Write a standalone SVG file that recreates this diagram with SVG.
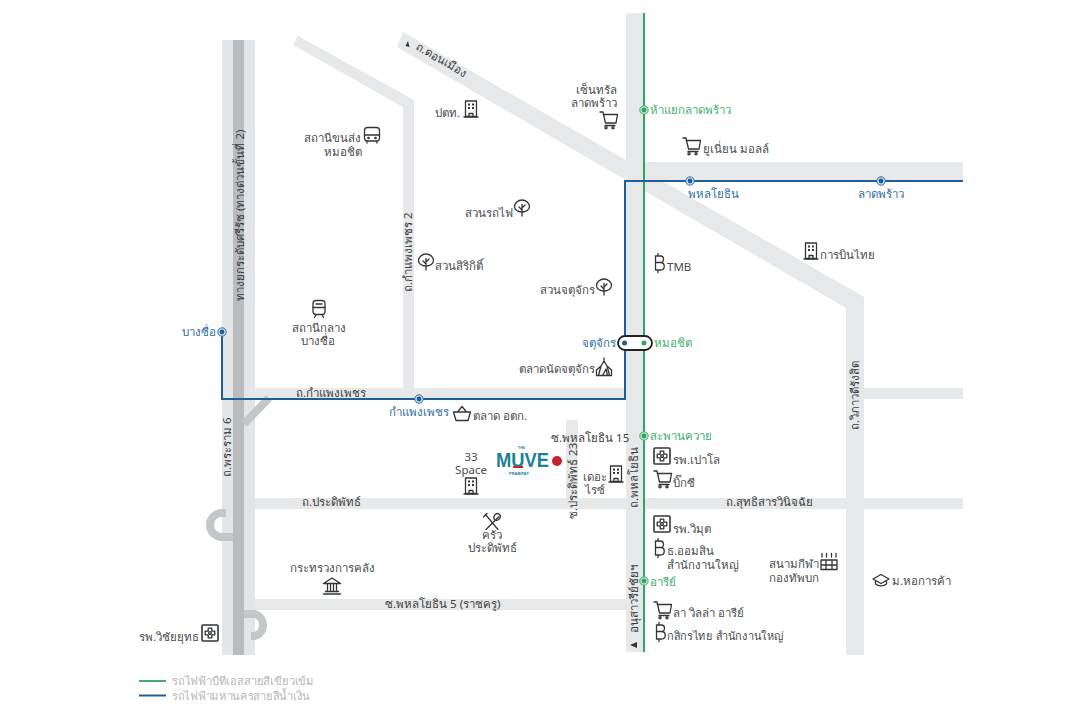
<svg xmlns="http://www.w3.org/2000/svg" width="1086" height="719" viewBox="0 0 1086 719">
<style>
text{font-family:"Noto Sans","Liberation Sans",sans-serif;font-size:11.500px;fill:#4a4c4e}
.d{fill:#3c3e40}
.g{fill:#3fae6e}
.b{fill:#2f6ea5}
.l{fill:#b4b7b9}
.m{text-anchor:middle}
.e{text-anchor:end}
.road{fill:#e6e8ea}
.ramp{fill:none;stroke:#c4c7c9;stroke-width:8}
.i{fill:none;stroke:#333537;stroke-width:1.300;stroke-linejoin:round;stroke-linecap:round}
.f{fill:#333537;stroke:none}
.hg{fill:#bfe5cd;stroke:#3fae6e;stroke-width:1}
.hb{fill:#cfe0ee;stroke:#2f6ea5;stroke-width:1}
.dg{fill:#2ea764}
.db{fill:#1f5f96}
.logo{font-family:"Liberation Sans",sans-serif;fill:#1b8296}
</style>
<defs>
<g id="cart" class="i"><path d="M-8-8h3l2.500 11h10.500l1.500-8.500H-4.800"/><path d="M-3 5.500H7"/><circle cx="-2" cy="7.800" r="1.100"/><circle cx="5" cy="7.800" r="1.100"/></g>
<g id="bld" class="i"><rect x="-5.500" y="-8" width="11" height="15.500"/><path d="M-7 8H7"/><path d="M-2 8v-3.500h4V8"/><path class="f" d="M-3-5.500h2v2h-2zM1-5.500h2v2H1zM-3-2h2v2h-2zM1-2h2v2H1z"/></g>
<g id="tree" class="i"><path d="M0-8C4-8 7.500-5 7.500-1.500 7.500 2 4 4 0 4-4 4-7.500 2-7.500-1.500-7.500-5-4-8 0-8Z"/><path d="M0 8V-3.500M0 0l3-3M0 2l-3-3"/></g>
<g id="baht" class="i"><path d="M-3.500-7V7M-3.500-7H1.500C5.500-7 5.500-.5 1.500-.5H-3.500M1.500-.5C6.500-.5 6.500 7 1.500 7H-3.500M-1-9.500V-7M-1 7V9.500"/></g>
<g id="hosp" class="i"><rect x="-8" y="-8" width="16" height="16" rx="1" stroke-width="1.600"/><path d="M-1.800-4.800h3.600v3h3v3.600h-3v3h-3.600v-3h-3v-3.600h3z"/><circle r="1.300"/></g>
<g id="bus" class="i"><rect x="-7.500" y="-7.500" width="15" height="13.500" rx="3"/><path d="M-7.500 0H7.500M-5 6v2M5 6v2"/><circle cx="-3.500" cy="3" r=".7"/><circle cx="3.500" cy="3" r=".7"/></g>
<g id="train" class="i"><rect x="-6" y="-8.500" width="12" height="14" rx="3"/><path d="M-6-1.500H6M-3 5.500l-1.500 3M3 5.500l1.500 3"/><path d="M-3-5H3"/></g>
<g id="basket" class="i"><path d="M-8.500-2H8.500L6 6.500H-6ZM-4.500-2 0-7.500 4.500-2"/></g>
<g id="tent" class="i"><path d="M0-10V-7M-5.500 7.500-3-2 0-7 3-2 5.500 7.500M-7.500 7.500H7.500M-3-2-7.500 2V7.500M3-2 7.500 2V7.500M-1.500 7.500 2 1 3.500 7.500"/></g>
<g id="food" class="i"><path d="M-6.500-7.500 6 7.500M6.500-5-6 7.500"/><ellipse cx="5" cy="-5" rx="3" ry="3.500" transform="rotate(40 5 -5)"/><path d="M-8.500-5-5-8.500"/></g>
<g id="bank" class="i"><path d="M-8.500-2.500 0-8 8.500-2.500ZM-6.500 5.500H6.500M-8.500 8H8.500M-4.500-2.500V5.500M-1.500-2.500V5.500M1.500-2.500V5.500M4.500-2.500V5.500"/></g>
<g id="stad" class="i"><path d="M-8-2H8M-8 3H8M-8 7.500H8M-8-2V7.500M8-2V7.500M-3-2V7.500M3-2V7.500M-7-8.500v3.500M-2.500-8.500v3.500M2.500-8.500v3.500M7-8.500v3.500"/></g>
<g id="cap" class="i"><path d="M-8-1 0-5.500 8-1 0 3.500ZM-5.500 1V4C-3 6.500 3 6.500 5.500 4V1"/></g>
</defs>
<rect width="1086" height="719" fill="#fff"/>
<g id="roads">
<rect x="222" y="40" width="33" height="615" fill="#e3e6e9"/>
<rect x="233" y="40" width="11" height="615" fill="#b9bcbe"/>
<path class="road" d="M298 36 414 100V388H403V107L293 45Z"/>
<path class="road" d="M403 32 864 297V655H846V308L397 47Z"/>
<rect class="road" x="626" y="13" width="18" height="639"/>
<rect class="road" x="644" y="162" width="319" height="19"/>
<rect class="road" x="255" y="388" width="371" height="11"/>
<rect class="road" x="864" y="388" width="99" height="11"/>
<rect class="road" x="255" y="498" width="708" height="11"/>
<rect class="road" x="255" y="599" width="371" height="11"/>
<rect class="road" x="566" y="420" width="12" height="78"/>
<path class="ramp" d="M244 424 269 398"/>
<path class="ramp" d="M226 513H222A12 12 0 0 0 222 537H233"/>
<path class="ramp" d="M244 614H255A11.500 11.500 0 0 1 255 636H251"/>
</g>
<g id="connectors" fill="none">
<path d="M644 13V652" stroke="#2ea764" stroke-width="2"/>
<path d="M963 181H625V399H222V332" stroke="#1f5f96" stroke-width="2"/>
<path d="M139 681H166" stroke="#3fae6e" stroke-width="2"/>
<path d="M139 695.500H166" stroke="#1f5f96" stroke-width="2"/>
</g>
<g id="stations">
<g id="st-halaek"><circle class="hg" cx="644" cy="110" r="4.200"/><circle class="dg" cx="644" cy="110" r="2.400"/><text class="g" x="650" y="114">ห้าแยกลาดพร้าว</text></g>
<g id="st-saphan"><circle class="hg" cx="644" cy="436" r="4.200"/><circle class="dg" cx="644" cy="436" r="2.400"/><text class="g" x="650" y="440">สะพานควาย</text></g>
<g id="st-ari"><circle class="hg" cx="644" cy="581" r="4.200"/><circle class="dg" cx="644" cy="581" r="2.400"/><text class="g" x="650" y="586">อารีย์</text></g>
<g id="st-phahon"><circle class="hb" cx="690" cy="181" r="4.200"/><circle class="db" cx="690" cy="181" r="2.400"/><text class="b m" x="713" y="198">พหลโยธิน</text></g>
<g id="st-latphrao"><circle class="hb" cx="881" cy="181" r="4.200"/><circle class="db" cx="881" cy="181" r="2.400"/><text class="b m" x="881" y="198">ลาดพร้าว</text></g>
<g id="st-bangsue"><circle class="hb" cx="222" cy="332" r="4.200"/><circle class="db" cx="222" cy="332" r="2.400"/><text class="b e" x="216" y="336">บางซื่อ</text></g>
<g id="st-kamphaeng"><circle class="hb" cx="419" cy="399" r="4.200"/><circle class="db" cx="419" cy="399" r="2.400"/><text class="b m" x="419" y="416">กำแพงเพชร</text></g>
<g id="st-chatuchak"><rect x="618" y="336" width="34" height="14" rx="7" fill="#fff" stroke="#222" stroke-width="1.800"/><circle class="db" cx="624.500" cy="343" r="2.500"/><circle class="dg" cx="644" cy="343" r="2.500"/><text class="b e" x="616" y="347">จตุจักร</text><text class="g" x="654" y="347">หมอชิต</text></g>
</g>
<g id="road-labels">
<text class="d" transform="translate(244 301) rotate(-90)">ทางยกระดับศรีรัช (ทางด่วนขั้นที่ 2)</text>
<text class="d" transform="translate(412 292) rotate(-90)">ถ.กำแพงเพชร 2</text>
<text class="d" transform="translate(231 477) rotate(-90)">ถ.พระราม 6</text>
<text class="d" transform="translate(859 430) rotate(-90)">ถ.วิภาวดีรังสิต</text>
<text class="d" transform="translate(638 508) rotate(-90)">ถ.พหลโยธิน</text>
<text class="d" transform="translate(577 519) rotate(-90)">ซ.ประดิพัทธ์ 23</text>
<text class="d" transform="translate(638 633) rotate(-90)">อนุสาวรีย์ชัยฯ</text>
<path d="M630 645 637 642V648Z" fill="#333"/>
<text class="d" transform="translate(415 49) rotate(30)">ถ.ดอนเมือง</text>
<path d="M405.500 46 408 41 409.500 47Z" fill="#333"/>
<text class="d" x="296" y="397">ถ.กำแพงเพชร</text>
<text class="d" x="302" y="506">ถ.ประดิพัทธ์</text>
<text class="d" x="726" y="506">ถ.สุทธิสารวินิจฉัย</text>
<text class="d" x="385" y="608">ซ.พหลโยธิน 5 (ราชครู)</text>
<text class="d" x="551" y="442">ซ.พหลโยธิน 15</text>
</g>
<g id="project">
<text class="logo" x="518" y="448.500" style="font-size:3.500px;font-weight:700">THE</text>
<text class="logo" x="496" y="466.500" style="font-size:20px;font-weight:700" textLength="53" lengthAdjust="spacingAndGlyphs">MUVE</text>
<rect x="513" y="466" width="10" height="2" fill="#d1202f"/>
<text class="logo" x="509" y="474.500" style="font-size:4px;font-weight:700">PRABIPAT</text>
<circle cx="557" cy="461" r="5" fill="#c9202f"/>
</g>
<g id="poi-central"><text class="e" x="617" y="94">เซ็นทรัล</text><text class="e" x="617" y="107">ลาดพร้าว</text><use href="#cart" x="608" y="120"/></g>
<g id="poi-union"><use href="#cart" x="691" y="146"/><text x="703" y="153">ยูเนี่ยน มอลล์</text></g>
<g id="poi-ptt"><text class="e" x="460" y="117">ปตท.</text><use href="#bld" x="471" y="109"/></g>
<g id="poi-thai"><use href="#bld" x="811" y="251"/><text x="820" y="259">การบินไทย</text></g>
<g id="poi-mochit-bus"><text class="e" x="361" y="142">สถานีขนส่ง</text><text class="m" x="343" y="156">หมอชิต</text><use href="#bus" x="372" y="135"/></g>
<g id="poi-rotfai"><text class="e" x="513" y="217">สวนรถไฟ</text><use href="#tree" x="522" y="208"/></g>
<g id="poi-sirikit"><use href="#tree" x="426" y="262"/><text x="435" y="270">สวนสิริกิติ์</text></g>
<g id="poi-chatuchak"><text class="e" x="595" y="294">สวนจตุจักร</text><use href="#tree" x="604" y="287"/></g>
<g id="poi-tmb"><use href="#baht" x="659" y="263"/><text x="667" y="271">TMB</text></g>
<g id="poi-bangsue"><use href="#train" x="319" y="309"/><text class="m" x="319" y="332">สถานีกลาง</text><text class="m" x="318" y="345">บางซื่อ</text></g>
<g id="poi-jj"><text class="e" x="595" y="373">ตลาดนัดจตุจักร</text><use href="#tent" x="604" y="368"/></g>
<g id="poi-ortorkor"><use href="#basket" x="462" y="414"/><text x="473" y="420">ตลาด อตก.</text></g>
<g id="poi-33"><text class="m" x="471" y="460.500">33</text><text class="m" x="471" y="474">Space</text><use href="#bld" x="471" y="486"/></g>
<g id="poi-rise"><text class="m" x="595" y="480.500">เดอะ</text><text class="m" x="595" y="494">ไรซ์</text><use href="#bld" x="616" y="474"/></g>
<g id="poi-paolo"><use href="#hosp" x="662" y="456"/><text x="673" y="464">รพ.เปาโล</text></g>
<g id="poi-bigc"><use href="#cart" x="662" y="479"/><text x="673" y="487">บิ๊กซี</text></g>
<g id="poi-krua"><use href="#food" x="492" y="522"/><text class="m" x="492" y="538.500">ครัว</text><text class="m" x="492" y="552">ประดิพัทธ์</text></g>
<g id="poi-vimut"><use href="#hosp" x="662" y="524"/><text x="673" y="533">รพ.วิมุต</text></g>
<g id="poi-gsb"><use href="#baht" x="659" y="548"/><text x="667" y="555">ธ.ออมสิน</text><text x="667" y="568.500">สำนักงานใหญ่</text></g>
<g id="poi-stadium"><text class="e" x="819" y="568">สนามกีฬา</text><text class="e" x="819" y="581.500">กองทัพบก</text><use href="#stad" x="829" y="562"/></g>
<g id="poi-utcc"><use href="#cap" x="881" y="580"/><text x="892" y="585">ม.หอการค้า</text></g>
<g id="poi-mof"><text class="m" x="332" y="572">กระทรวงการคลัง</text><use href="#bank" x="332" y="586"/></g>
<g id="poi-lavilla"><use href="#cart" x="662" y="610"/><text x="673" y="617">ลา วิลล่า อารีย์</text></g>
<g id="poi-kbank"><use href="#baht" x="660" y="632"/><text x="667" y="640" textLength="117" lengthAdjust="spacingAndGlyphs">กสิกรไทย สำนักงานใหญ่</text></g>
<g id="poi-vichai"><text x="139" y="641">รพ.วิชัยยุทธ</text><use href="#hosp" x="210" y="633"/></g>
<g id="legend"><text class="l" x="172" y="685" textLength="142" lengthAdjust="spacingAndGlyphs">รถไฟฟ้าบีทีเอสสายสีเขียวเข้ม</text><text class="l" x="172" y="700" textLength="138" lengthAdjust="spacingAndGlyphs">รถไฟฟ้ามหานครสายสีน้ำเงิน</text></g>
</svg>
